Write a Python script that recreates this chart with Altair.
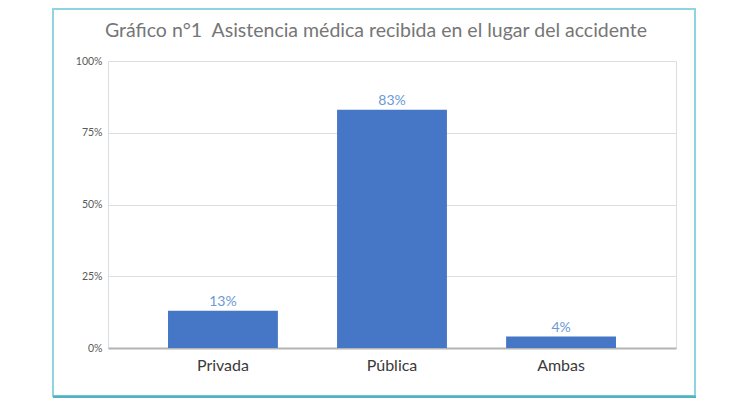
import altair as alt
import pandas as pd

categories = ["Privada", "Pública", "Ambas"]
values = [13, 83, 4]
labels = ["13%", "83%", "4%"]
y_ticks = [0, 25, 50, 75, 100]
title_text = "Gráfico n°1\u00a0\u00a0Asistencia médica recibida en el lugar del accidente"

df = pd.DataFrame({"cat": categories, "val": values, "lab": labels})

W, H = 568, 287
FONT = "Lato"
BLUE = "#4677c6"

base = alt.Chart(df)

bars = base.mark_bar(color=BLUE).encode(
    x=alt.X("cat:N", sort=categories, title=None,
            scale=alt.Scale(paddingInner=0.35, paddingOuter=0.355),
            axis=alt.Axis(labelAngle=0, labelFont=FONT, labelFontSize=16,
                          labelColor="#3a3a3a", labelPadding=9, ticks=False,
                          domain=True, domainColor="#b3b3b3", domainWidth=2)),
    y=alt.Y("val:Q", title=None,
            scale=alt.Scale(domain=[0, 100], nice=False),
            axis=alt.Axis(values=y_ticks, labelExpr="datum.value + '%'",
                          labelFont=FONT, labelFontSize=10.5, labelColor="#595959",
                          labelPadding=6, ticks=False, domain=False,
                          grid=True, gridColor="#dedede", gridWidth=1)),
)

text = base.mark_text(dy=-9, font=FONT, fontSize=14, color="#6b98d8").encode(
    x=alt.X("cat:N", sort=categories),
    y="val:Q",
    text="lab:N",
)

title = alt.Chart(alt.Data(values=[{"t": title_text}])).mark_text(
    font=FONT, fontSize=19.5, color="#767676", baseline="middle", align="center"
).encode(x=alt.value(268), y=alt.value(-30), text="t:N")

frame = alt.Chart(alt.Data(values=[{}])).mark_rect(
    fill=None, stroke="#8fd4de", strokeWidth=2
).encode(
    x=alt.value(-55), x2=alt.value(587), y=alt.value(-52), y2=alt.value(335)
)

bottom = alt.Chart(alt.Data(values=[{}])).mark_rule(
    stroke="#4fb3c4", strokeWidth=3
).encode(
    x=alt.value(-55), x2=alt.value(588), y=alt.value(336)
)

chart = alt.layer(bars, text, title, frame, bottom).properties(
    width=W, height=H,
    autosize=alt.AutoSizeParams(type="none"),
    padding={"left": 100, "top": 53, "right": 66, "bottom": 50},
).configure_view(stroke=None).configure(background="white")

chart.save("out.html", embed_options={"renderer": "svg", "actions": False})
